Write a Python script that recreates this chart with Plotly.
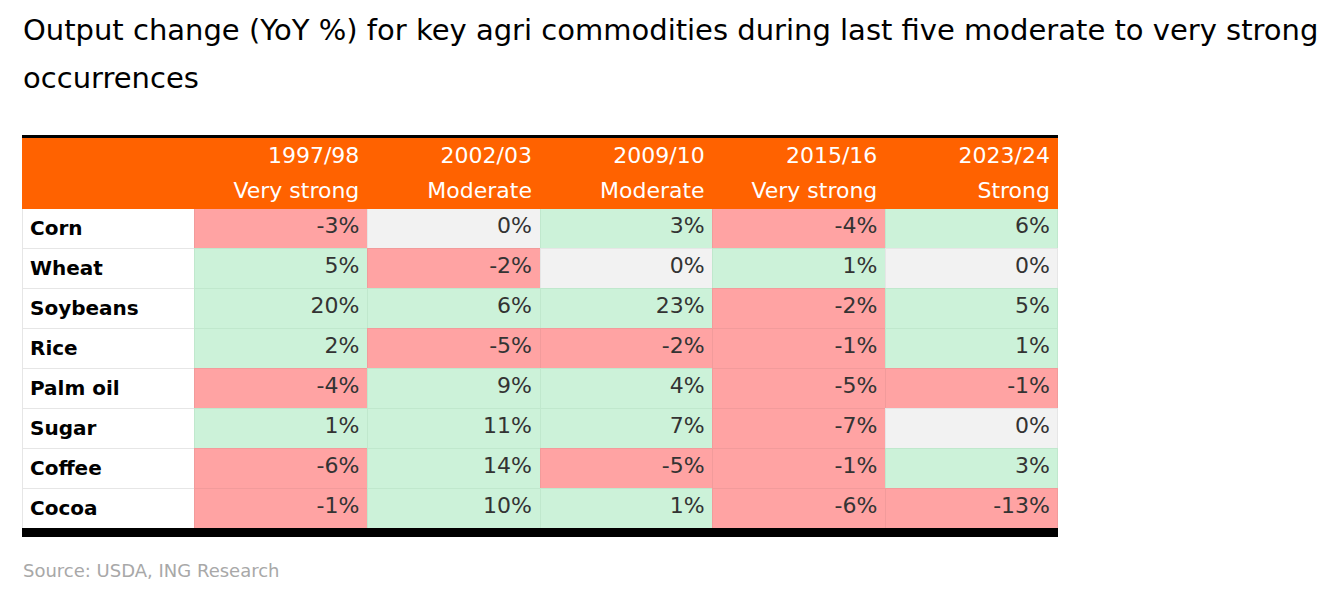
import plotly.graph_objects as go

W, H = 1330, 604
OFF = 8  # page body margin shifts the figure by 8px

commodities = ["Corn", "Wheat", "Soybeans", "Rice", "Palm oil", "Sugar", "Coffee", "Cocoa"]
seasons = ["1997/98", "2002/03", "2009/10", "2015/16", "2023/24"]
intensity = ["Very strong", "Moderate", "Moderate", "Very strong", "Strong"]

# YoY output change, %, one list per season
chg_1997 = [-3, 5, 20, 2, -4, 1, -6, -1]
chg_2002 = [0, -2, 6, -5, 9, 11, 14, 10]
chg_2009 = [3, 0, 23, -2, 4, 7, -5, 1]
chg_2015 = [-4, 1, -2, -1, -5, -7, -1, -6]
chg_2023 = [6, 0, 5, 1, -1, 0, 3, -13]
cols = [chg_1997, chg_2002, chg_2009, chg_2015, chg_2023]

RED, GREEN, GREY = "#ffa3a3", "#ccf2d9", "#f2f2f2"
RED_L, GREEN_L, GREY_L = "#f29b9b", "#c0e8cd", "#e6e6e6"
FONT = "DejaVu Sans"


def fill(v):
    return RED if v < 0 else (GREEN if v > 0 else GREY)


def edge(v):
    return RED_L if v < 0 else (GREEN_L if v > 0 else GREY_L)


def px(x):
    return (x - OFF) / W


def py(y):
    return 1 - (y - OFF) / H


header = [["", ""]] + [[s, i] for s, i in zip(seasons, intensity)]
values = [[f"<b>{c}</b>" for c in commodities]] + [[f"{v}%" for v in c] for c in cols]
fills = [["white"] * len(commodities)] + [[fill(v) for v in c] for c in cols]
lines = [["#e6e6e6"] * len(commodities)] + [[edge(v) for v in c] for c in cols]

x0, x1 = px(22), px(1058)

fig = go.Figure(go.Table(
    domain=dict(x=[x0, x1], y=[0.0, py(138)]),
    columnwidth=[1] * 6,
    header=dict(
        values=header,
        fill_color="#ff6200",
        line_color="#ff6200",
        align=["left"] + ["right"] * 5,
        font=dict(family=FONT, size=22, color="white"),
        height=35,
    ),
    cells=dict(
        values=values,
        fill_color=fills,
        line=dict(color=lines, width=1),
        align=["left"] + ["right"] * 5,
        font=dict(family=FONT, size=[20] + [22] * 5, color=["#000000"] + ["#333333"] * 5),
        height=40,
    ),
))

# thin black rule above, thick bar below
fig.add_shape(type="rect", xref="paper", yref="paper",
              x0=x0, x1=x1, y0=py(138), y1=py(135),
              fillcolor="black", line_width=0)
fig.add_shape(type="rect", xref="paper", yref="paper",
              x0=x0, x1=x1, y0=py(537), y1=py(528),
              fillcolor="black", line_width=0)

fig.add_annotation(text="Output change (YoY %) for key agri commodities during last five moderate to very strong",
                   xref="paper", yref="paper", x=px(21), y=py(11), xanchor="left", yanchor="top",
                   showarrow=False, font=dict(family=FONT, size=29, color="black"))
fig.add_annotation(text="occurrences",
                   xref="paper", yref="paper", x=px(21), y=py(59), xanchor="left", yanchor="top",
                   showarrow=False, font=dict(family=FONT, size=29, color="black"))
fig.add_annotation(text="Source: USDA, ING Research",
                   xref="paper", yref="paper", x=px(21), y=py(558), xanchor="left", yanchor="top",
                   showarrow=False, font=dict(family=FONT, size=18, color="#a8a8a8"))

fig.update_layout(width=W, height=H, margin=dict(l=0, r=0, t=0, b=0),
                  paper_bgcolor="white", plot_bgcolor="white")

fig.write_html("out.html")
